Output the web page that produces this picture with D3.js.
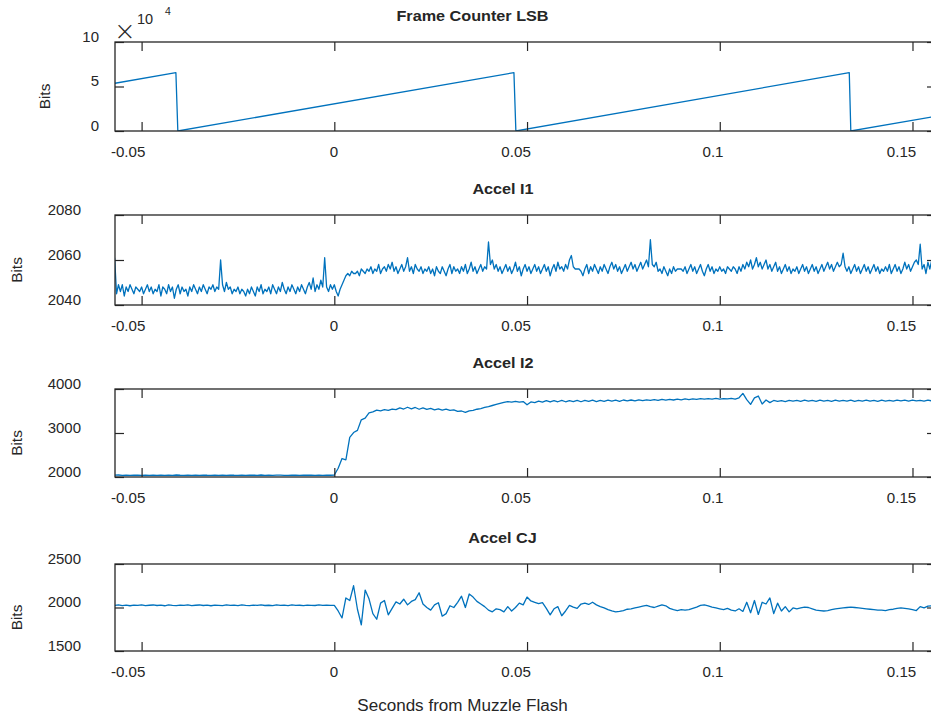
<!DOCTYPE html>
<html>
<head>
<meta charset="utf-8">
<script src="https://cdn.jsdelivr.net/npm/d3@7"></script>
<style>
  body { margin: 0; background: #fff; }
  svg { display: block; }
  text { font-family: 'Liberation Sans', Arial, Helvetica, sans-serif; fill: #262626; }
</style>
</head>
<body>
<div id="chart"></div>
<script>
// ---- data ----
const xTicks = [-0.05, 0, 0.05, 0.1, 0.15];

// frame counter: sawtooth vertices (counts)
const frameTimes = [-0.0569, -0.0411, -0.0406, 0.0466, 0.0471, 0.1336, 0.1340, 0.1561];
const frameCounts = [53660, 65535, 0, 65535, 0, 65535, 0, 16600];

// Accel I1, sampled every 0.5 ms from -0.057 s
const accelI1Start = -0.057;
const accelI1Step = 0.0005;
const accelI1 = [
  2061, 2045, 2049, 2046, 2049, 2044, 2048, 2046, 2049, 2047, 2045, 2048, 2047, 2046, 2048, 2045, 2047, 2049, 2046, 2048,
  2045, 2047, 2046, 2049, 2044, 2048, 2047, 2045, 2049, 2046, 2048, 2043, 2047, 2049, 2045, 2048, 2046, 2047, 2044, 2048,
  2046, 2049, 2047, 2045, 2048, 2046, 2049, 2047, 2045, 2048, 2047, 2049, 2046, 2048, 2047, 2060, 2049, 2046, 2050, 2047,
  2048, 2045, 2047, 2046, 2048, 2045, 2047, 2046, 2044, 2047, 2045, 2048, 2046, 2044, 2048, 2046, 2049, 2045, 2047, 2046,
  2048, 2045, 2049, 2047, 2045, 2048, 2046, 2050, 2047, 2045, 2048, 2046, 2049, 2047, 2045, 2048, 2046, 2049, 2047, 2045,
  2048, 2050, 2047, 2052, 2046, 2049, 2047, 2051, 2048, 2061, 2048, 2046, 2049, 2047, 2049, 2046, 2044, 2047, 2049, 2051,
  2053, 2054, 2053, 2055, 2054, 2054, 2055, 2053, 2056, 2055, 2054, 2056, 2055, 2057, 2054, 2056, 2055, 2058, 2054, 2056,
  2057, 2055, 2058, 2056, 2059, 2055, 2057, 2054, 2056, 2058, 2055, 2057, 2061, 2055, 2057, 2054, 2058, 2056, 2055, 2057,
  2054, 2056, 2055, 2057, 2054, 2056, 2053, 2057, 2055, 2054, 2057, 2055, 2053, 2056, 2058, 2054, 2057, 2055, 2056, 2054,
  2057, 2055, 2058, 2054, 2056, 2059, 2055, 2057, 2054, 2056, 2058, 2055, 2057, 2056, 2068, 2058, 2060, 2056, 2058, 2055,
  2057, 2054, 2056, 2058, 2055, 2057, 2054, 2056, 2059, 2055, 2057, 2053, 2056, 2058, 2055, 2057, 2054, 2056, 2058, 2055,
  2057, 2054, 2056, 2058, 2055, 2057, 2053, 2056, 2058, 2055, 2059, 2056, 2057, 2055, 2058, 2056, 2060, 2062, 2057, 2056,
  2056, 2056, 2055, 2053, 2056, 2058, 2054, 2057, 2055, 2058, 2056, 2054, 2057, 2055, 2058, 2056, 2054, 2057, 2059, 2056,
  2058, 2055, 2057, 2054, 2056, 2058, 2055, 2057, 2059, 2056, 2058, 2055, 2057, 2059, 2056, 2058, 2060, 2057, 2069, 2058,
  2057, 2059, 2055, 2056, 2054, 2057, 2055, 2053, 2056, 2054, 2057, 2055, 2056, 2056, 2056, 2055, 2057, 2054, 2056, 2058,
  2055, 2057, 2054, 2056, 2058, 2055, 2053, 2056, 2058, 2055, 2057, 2054, 2056, 2055, 2057, 2055, 2056, 2054, 2057, 2056,
  2055, 2057, 2056, 2054, 2057, 2055, 2058, 2056, 2059, 2057, 2060, 2056, 2058, 2061, 2057, 2059, 2056, 2058, 2060, 2056,
  2058, 2055, 2057, 2059, 2055, 2057, 2054, 2056, 2058, 2055, 2057, 2054, 2056, 2055, 2057, 2054, 2056, 2058, 2055, 2057,
  2054, 2056, 2058, 2055, 2057, 2054, 2056, 2058, 2055, 2057, 2059, 2056, 2058, 2055, 2057, 2059, 2057, 2058, 2063, 2057,
  2055, 2057, 2054, 2056, 2058, 2055, 2057, 2054, 2056, 2058, 2055, 2057, 2054, 2056, 2058, 2055, 2057, 2054, 2056, 2055,
  2057, 2055, 2058, 2054, 2056, 2058, 2055, 2057, 2054, 2056, 2059, 2056, 2058, 2055, 2057, 2059, 2060, 2058, 2067, 2056,
  2058, 2054, 2059, 2056, 2060, 2055, 2058
];

// Accel I2, sampled every 1 ms from -0.057 s
const accelI2Start = -0.057;
const accelI2Step = 0.001;
const accelI2 = [
  2040, 2045, 2038, 2042, 2036, 2044, 2040, 2037, 2043, 2039,
  2041, 2036, 2044, 2039, 2042, 2038, 2045, 2040, 2037, 2043,
  2039, 2042, 2036, 2044, 2040, 2038, 2043, 2039, 2041, 2037,
  2044, 2040, 2038, 2042, 2036, 2043, 2040, 2039, 2045, 2038,
  2042, 2037, 2041, 2044, 2039, 2036, 2043, 2040, 2038, 2042,
  2040, 2044, 2038, 2041, 2039, 2043, 2040,
  2045, 2200, 2420, 2390, 2900, 3010, 3060, 3300, 3340, 3460,
  3480, 3520, 3505, 3530, 3515, 3545, 3530, 3570, 3545, 3585,
  3550, 3580, 3540, 3570, 3535, 3560, 3525, 3550, 3520, 3540,
  3515, 3525, 3490, 3500, 3470, 3505, 3515, 3540, 3555, 3580,
  3600, 3625, 3650, 3675, 3695, 3715, 3700, 3720, 3700, 3715,
  3640, 3705, 3690, 3725, 3700, 3735, 3705, 3735, 3710, 3740,
  3710, 3735, 3715, 3740, 3710, 3740, 3720, 3745, 3715, 3740,
  3720, 3745, 3725, 3745, 3720, 3750, 3730, 3750, 3730, 3755,
  3735, 3755, 3740, 3760, 3740, 3765, 3745, 3765, 3750, 3770,
  3755, 3775, 3760, 3775, 3765, 3780, 3770, 3780, 3770, 3785,
  3770, 3780, 3775, 3785, 3770, 3800, 3900, 3760, 3650, 3800,
  3840, 3660, 3750, 3690, 3740, 3720, 3735, 3715, 3740, 3725,
  3740, 3720, 3745, 3725, 3740, 3720, 3745, 3725, 3740, 3720,
  3745, 3725, 3740, 3725, 3745, 3720, 3740, 3725, 3745, 3725,
  3740, 3720, 3745, 3725, 3740, 3725, 3745, 3730, 3745, 3725,
  3745, 3730, 3740, 3725, 3745, 3730, 3740
];

// Accel CJ, sampled every 1 ms from -0.057 s
const accelCJStart = -0.057;
const accelCJStep = 0.001;
const accelCJ = [
  2025, 2030, 2022, 2028, 2020, 2027, 2024, 2031, 2021, 2026,
  2029, 2023, 2027, 2020, 2030, 2025, 2022, 2028, 2024, 2031,
  2021, 2026, 2029, 2023, 2027, 2020, 2028, 2025, 2022, 2030,
  2024, 2027, 2021, 2029, 2025, 2022, 2028, 2024, 2030, 2023,
  2026, 2021, 2029, 2025, 2027, 2022, 2030, 2024, 2026, 2021,
  2028, 2025, 2023, 2029, 2024, 2027, 2025,
  2025, 1960, 1880, 2110, 2080, 2250, 1980, 1800, 2200, 2100,
  1930, 1865, 2050, 2080, 1915, 1990, 2065, 2040, 2095, 2030,
  2070, 2090, 2170, 2040, 2000, 1970, 2030, 2055, 1900, 1930,
  2020, 2000, 2060, 2130, 2000, 2155, 2120, 2070, 2040, 2010,
  1970, 1950, 1985, 1975, 1950, 2010, 1960, 2000, 2050, 2030,
  2120, 2075, 2060, 2045, 2055, 1990, 1915, 1985, 2010, 1905,
  1960, 2025, 2005, 1990, 2040, 2050, 2035, 2060, 2030, 2010,
  1995, 1975, 1960, 1950, 1955, 1965, 1980, 1985, 1995, 2005,
  2015, 2025, 2010, 2000, 2015, 2030, 2020, 1990, 1975, 1965,
  1975, 1970, 1975, 1990, 2005, 2025, 2030, 2020, 2005, 1995,
  1985, 1975, 1990, 1970, 1960, 1985, 1955, 2060, 1940, 2080,
  1920, 2060, 2040, 2110, 1930, 2050, 1960, 2010, 1950, 1995,
  1985, 1995, 2005, 2000, 1985, 1970, 1965, 1960, 1965, 1975,
  1985, 1990, 1995, 2000, 2005, 2000, 1995, 1990, 1985, 1980,
  1975, 1970, 1970, 1965, 1975, 1980, 1990, 1995, 1990, 1985,
  1975, 1965, 2010, 1995, 2015, 2020, 2025
];

// ---- layout ----
const dimensions = { width: 931, height: 719, left: 115, right: 936 };

const sampled = (start, step, values) => values.map((v, i) => [start + i * step, v]);

const panels = [
  {
    title: 'Frame Counter LSB', titleX: 472.5,
    top: 42, bottom: 131, yDomain: [0, 10], yTicks: [0, 5, 10],
    labelRight: 99, ylabelX: 44,
    points: frameTimes.map((t, i) => [t, frameCounts[i] / 1e4])
  },
  {
    title: 'Accel I1', titleX: 503,
    top: 215, bottom: 305, yDomain: [2040, 2080], yTicks: [2040, 2060, 2080],
    labelRight: 81, ylabelX: 16.5,
    points: sampled(accelI1Start, accelI1Step, accelI1)
  },
  {
    title: 'Accel I2', titleX: 503,
    top: 389, bottom: 477, yDomain: [2000, 4000], yTicks: [2000, 3000, 4000],
    labelRight: 81, ylabelX: 16.5,
    points: sampled(accelI2Start, accelI2Step, accelI2)
  },
  {
    title: 'Accel CJ', titleX: 502.5,
    top: 564, bottom: 651, yDomain: [1500, 2500], yTicks: [1500, 2000, 2500],
    labelRight: 81, ylabelX: 16.5,
    points: sampled(accelCJStart, accelCJStep, accelCJ)
  }
];

const svg = d3.select('#chart')
  .append('svg')
  .attr('width', dimensions.width)
  .attr('height', dimensions.height);

const xScale = d3.scaleLinear()
  .domain([-0.0569, 0.1561])
  .range([dimensions.left, dimensions.right]);

const axisColor = '#262626';
const tickLen = 9;
const stretch = 'scale(1.08,1)';

panels.forEach((p, idx) => {
  const yScale = d3.scaleLinear()
    .domain(p.yDomain)
    .range([p.bottom, p.top]);

  const g = svg.append('g');

  g.append('clipPath')
    .attr('id', `clip${idx}`)
    .append('rect')
    .attr('x', dimensions.left)
    .attr('y', p.top)
    .attr('width', dimensions.right - dimensions.left)
    .attr('height', p.bottom - p.top);

  const line = d3.line()
    .x((d) => xScale(d[0]))
    .y((d) => yScale(d[1]));

  g.append('path')
    .datum(p.points)
    .attr('clip-path', `url(#clip${idx})`)
    .attr('fill', 'none')
    .attr('stroke', '#0072BD')
    .attr('stroke-width', 1.3)
    .attr('stroke-linejoin', 'round')
    .attr('d', line);

  // bottom axis with labels
  const bottomAxis = g.append('g')
    .attr('transform', `translate(0, ${p.bottom})`)
    .call(d3.axisBottom(xScale)
      .tickValues(xTicks)
      .tickSizeInner(-tickLen)
      .tickSizeOuter(0)
      .tickFormat((d) => String(+d.toFixed(2))));
  bottomAxis.selectAll('text')
    .attr('y', 26)
    .attr('dy', null)
    .attr('x', 3)
    .attr('text-anchor', 'end')
    .attr('transform', stretch)
    .style('font-size', '14px');

  // top axis, ticks only
  g.append('g')
    .attr('transform', `translate(0, ${p.top})`)
    .call(d3.axisTop(xScale)
      .tickValues(xTicks)
      .tickSizeInner(-tickLen)
      .tickSizeOuter(0)
      .tickFormat(''));

  // left axis with labels
  const leftAxis = g.append('g')
    .attr('transform', `translate(${dimensions.left}, 0)`)
    .call(d3.axisLeft(yScale)
      .tickValues(p.yTicks)
      .tickSizeInner(-tickLen)
      .tickSizeOuter(0)
      .tickFormat(d3.format('d')));
  leftAxis.selectAll('text')
    .attr('x', (p.labelRight - dimensions.left) / 1.07)
    .attr('y', -1)
    .attr('dy', null)
    .attr('text-anchor', 'end')
    .attr('transform', 'scale(1.07,1)')
    .style('font-size', '14px');

  // right axis, ticks only
  g.append('g')
    .attr('transform', `translate(${dimensions.right}, 0)`)
    .call(d3.axisRight(yScale)
      .tickValues(p.yTicks)
      .tickSizeInner(-tickLen)
      .tickSizeOuter(0)
      .tickFormat(''));

  g.selectAll('.domain').remove();
  g.selectAll('.tick line')
    .attr('stroke', axisColor)
    .attr('stroke-width', 1.2);
  g.selectAll('.tick text').attr('fill', axisColor);

  // axes box
  g.append('rect')
    .attr('x', dimensions.left)
    .attr('y', p.top)
    .attr('width', dimensions.right - dimensions.left)
    .attr('height', p.bottom - p.top)
    .attr('fill', 'none')
    .attr('stroke', axisColor)
    .attr('stroke-width', 1.3);

  // title
  g.append('text')
    .attr('transform', `translate(${p.titleX}, ${p.top - 21.5}) ${stretch}`)
    .attr('text-anchor', 'middle')
    .style('font-size', '15px')
    .style('font-weight', 'bold')
    .text(p.title);

  // y label
  g.append('text')
    .attr('transform', `translate(${p.ylabelX}, ${(p.top + p.bottom) / 2 + 10}) rotate(-90)`)
    .attr('text-anchor', 'middle')
    .attr('dy', '0.36em')
    .style('font-size', '15.4px')
    .text('Bits');
});

// exponent marker on the first panel
const expo = svg.append('g');
expo.append('text')
  .attr('x', 125)
  .attr('y', 40)
  .attr('text-anchor', 'middle')
  .style('font-family', "'DejaVu Sans', sans-serif")
  .style('font-size', '26px')
  .style('font-weight', '200')
  .text('×');
expo.append('text')
  .attr('x', 137)
  .attr('y', 24)
  .style('font-size', '14.5px')
  .text('10');
expo.append('text')
  .attr('x', 165)
  .attr('y', 15)
  .style('font-size', '10.5px')
  .text('4');

// x label
svg.append('text')
  .attr('transform', `translate(462.5, 711) scale(1.08,1)`)
  .attr('text-anchor', 'middle')
  .style('font-size', '15.8px')
  .text('Seconds from Muzzle Flash');
</script>
</body>
</html>
